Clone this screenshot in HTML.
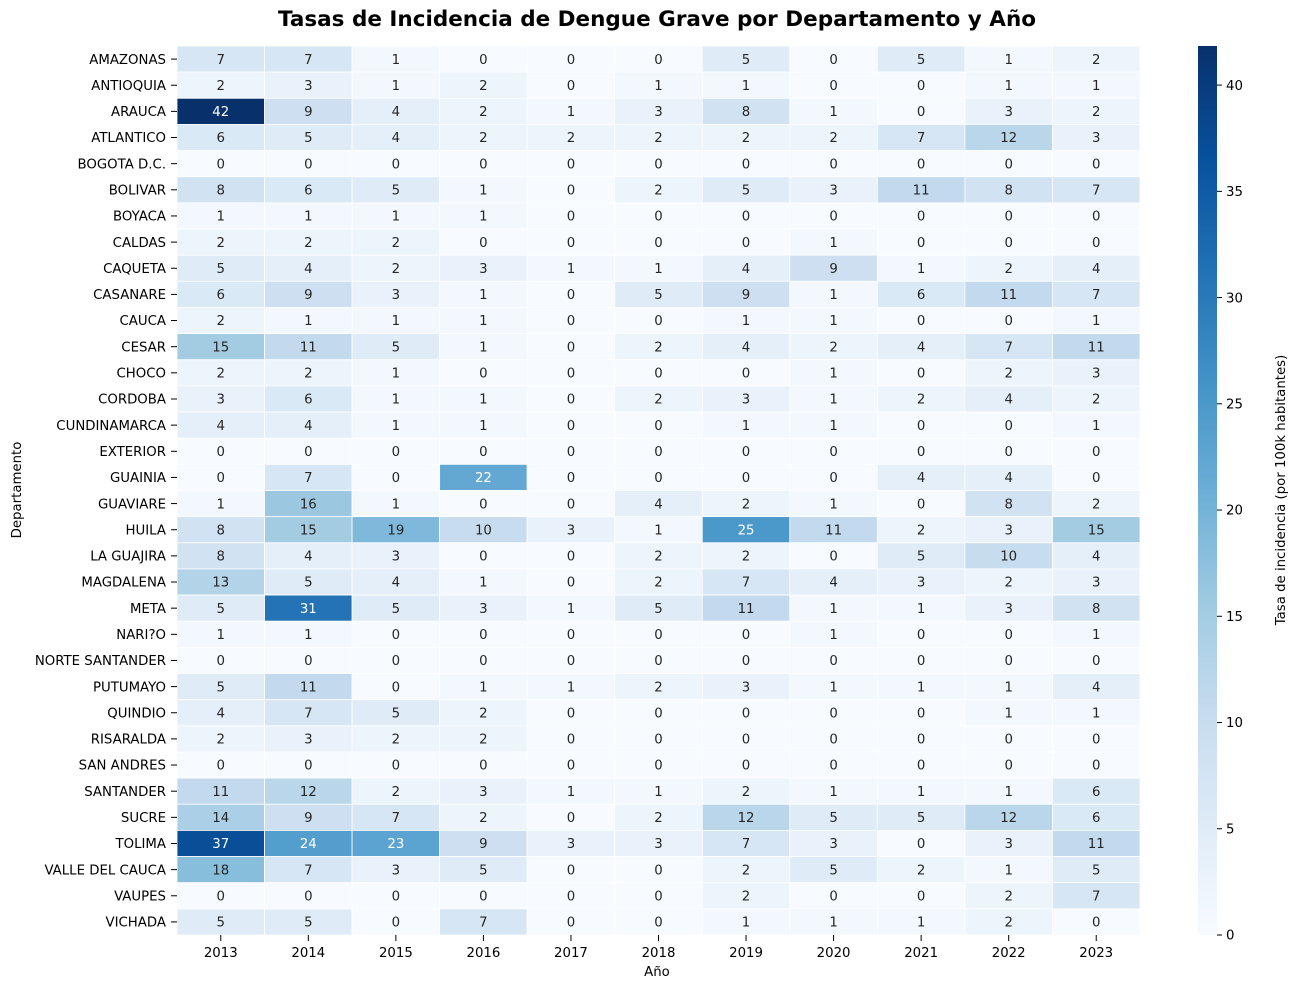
<!DOCTYPE html>
<html><head><meta charset="utf-8">
<style>
body{margin:0;background:#fff;font-family:"DejaVu Sans",sans-serif;}
svg text{font-family:"DejaVu Sans","Liberation Sans",sans-serif;}
</style></head>
<body>
<svg id="chart" width="1300" height="990">
<text x="657" y="26" text-anchor="middle" font-size="21.5" font-weight="bold">Tasas de Incidencia de Dengue Grave por Departamento y Año</text>
<g id="cells"></g>
<g id="ylabels"></g>
<g id="xlabels"></g>
<text x="657" y="976" text-anchor="middle" font-size="13.3">Año</text>
<text transform="translate(21,490) rotate(-90)" text-anchor="middle" font-size="13.3">Departamento</text>
<defs><linearGradient id="cbg" x1="0" y1="1" x2="0" y2="0">
<stop offset="0" stop-color="#f7fbff"/><stop offset="0.125" stop-color="#deebf7"/><stop offset="0.25" stop-color="#c6dbef"/><stop offset="0.375" stop-color="#9ecae1"/><stop offset="0.5" stop-color="#6baed6"/><stop offset="0.625" stop-color="#4292c6"/><stop offset="0.75" stop-color="#2171b5"/><stop offset="0.875" stop-color="#08519c"/><stop offset="1" stop-color="#08306b"/></linearGradient></defs>
<rect x="1198" y="46" width="19" height="889" fill="url(#cbg)"/>
<g id="cbticks"></g>
<text transform="translate(1285,490) rotate(-90)" text-anchor="middle" font-size="13.3">Tasa de incidencia (por 100k habitantes)</text>
</svg>
<script>
const years=["2013","2014","2015","2016","2017","2018","2019","2020","2021","2022","2023"];
const depts=["AMAZONAS","ANTIOQUIA","ARAUCA","ATLANTICO","BOGOTA D.C.","BOLIVAR","BOYACA","CALDAS","CAQUETA","CASANARE","CAUCA","CESAR","CHOCO","CORDOBA","CUNDINAMARCA","EXTERIOR","GUAINIA","GUAVIARE","HUILA","LA GUAJIRA","MAGDALENA","META","NARI?O","NORTE SANTANDER","PUTUMAYO","QUINDIO","RISARALDA","SAN ANDRES","SANTANDER","SUCRE","TOLIMA","VALLE DEL CAUCA","VAUPES","VICHADA"];
const values=[
[7,7,1,0,0,0,5,0,5,1,2],
[2,3,1,2,0,1,1,0,0,1,1],
[42,9,4,2,1,3,8,1,0,3,2],
[6,5,4,2,2,2,2,2,7,12,3],
[0,0,0,0,0,0,0,0,0,0,0],
[8,6,5,1,0,2,5,3,11,8,7],
[1,1,1,1,0,0,0,0,0,0,0],
[2,2,2,0,0,0,0,1,0,0,0],
[5,4,2,3,1,1,4,9,1,2,4],
[6,9,3,1,0,5,9,1,6,11,7],
[2,1,1,1,0,0,1,1,0,0,1],
[15,11,5,1,0,2,4,2,4,7,11],
[2,2,1,0,0,0,0,1,0,2,3],
[3,6,1,1,0,2,3,1,2,4,2],
[4,4,1,1,0,0,1,1,0,0,1],
[0,0,0,0,0,0,0,0,0,0,0],
[0,7,0,22,0,0,0,0,4,4,0],
[1,16,1,0,0,4,2,1,0,8,2],
[8,15,19,10,3,1,25,11,2,3,15],
[8,4,3,0,0,2,2,0,5,10,4],
[13,5,4,1,0,2,7,4,3,2,3],
[5,31,5,3,1,5,11,1,1,3,8],
[1,1,0,0,0,0,0,1,0,0,1],
[0,0,0,0,0,0,0,0,0,0,0],
[5,11,0,1,1,2,3,1,1,1,4],
[4,7,5,2,0,0,0,0,0,1,1],
[2,3,2,2,0,0,0,0,0,0,0],
[0,0,0,0,0,0,0,0,0,0,0],
[11,12,2,3,1,1,2,1,1,1,6],
[14,9,7,2,0,2,12,5,5,12,6],
[37,24,23,9,3,3,7,3,0,3,11],
[18,7,3,5,0,0,2,5,2,1,5],
[0,0,0,0,0,0,2,0,0,2,7],
[5,5,0,7,0,0,1,1,1,2,0]];
const cbTicks=[0,5,10,15,20,25,30,35,40];
const vmax=41.84;
const X0=177,X1=1140,Y0=46,Y1=935;
const cw=(X1-X0)/years.length, ch=(Y1-Y0)/depts.length;
const xPos=i=>X0+i*cw, yPos=j=>Y0+j*ch;
const cbY=v=>Y1-(v/vmax)*(Y1-Y0);
const stops=[[247,251,255],[222,235,247],[198,219,239],[158,202,225],[107,174,214],[66,146,198],[33,113,181],[8,81,156],[8,48,107]];
function color(v){let t=Math.max(0,Math.min(1,v/vmax))*8;let i=Math.min(7,Math.floor(t)),f=t-i;
const c=stops[i].map((a,k)=>Math.round(a+(stops[i+1][k]-a)*f));return `rgb(${c})`;}
const NS="http://www.w3.org/2000/svg";
function mk(tag,attrs,parent,txt){const e=document.createElementNS(NS,tag);for(const k in attrs)e.setAttribute(k,attrs[k]);if(txt!==undefined)e.textContent=txt;parent.appendChild(e);return e;}
const cells=document.getElementById('cells'),yl=document.getElementById('ylabels'),xl=document.getElementById('xlabels'),cb=document.getElementById('cbticks');
depts.forEach((d,j)=>{
 years.forEach((y,i)=>{
  const v=values[j][i];
  const r=mk('rect',{x:xPos(i),y:yPos(j),width:cw,height:ch,fill:color(v),stroke:'#fff','stroke-width':0.8},cells);
  
  
  const t=mk('text',{x:xPos(i)+cw/2,y:yPos(j)+ch/2+4.7,'text-anchor':'middle','font-size':13.3,fill:v>20?'#fff':'#262626'},cells,String(v));
  
  
 });
 const l=mk('text',{x:X0-11,y:yPos(j)+ch/2+4.7,'text-anchor':'end','font-size':13.3},yl,d);
 
 
 mk('line',{x1:X0-6,x2:X0,y1:yPos(j)+ch/2,y2:yPos(j)+ch/2,stroke:'#000'},yl);
});
years.forEach((y,i)=>{
 const l=mk('text',{x:xPos(i)+cw/2,y:Y1+22,'text-anchor':'middle','font-size':13.3},xl,y);
 
 
 mk('line',{x1:xPos(i)+cw/2,x2:xPos(i)+cw/2,y1:Y1,y2:Y1+6,stroke:'#000'},xl);
});
cbTicks.forEach(v=>{
 mk('line',{x1:1217,x2:1222,y1:cbY(v),y2:cbY(v),stroke:'#000'},cb);
 const t=mk('text',{x:1226,y:cbY(v)+4.7,'font-size':13.3},cb,String(v));
 
 
});
</script>
</body></html>
